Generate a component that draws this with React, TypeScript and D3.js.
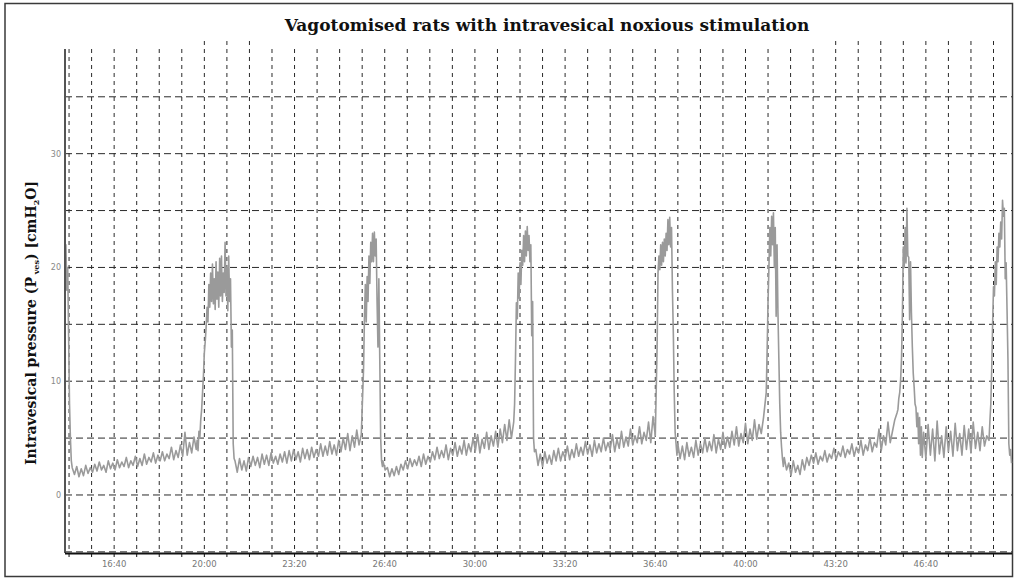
import React from 'react';
import * as d3 from 'd3';

// Trace segments (cmH2O). Each segment has a start time (s) and sample step (s).
const initialDrop = [21, 22, 18, 20, 14, 8, 5, 3];
const baseline1 = [
  2.4, 1.8, 2.5, 1.6, 2.3, 1.7, 2.6, 1.9, 2.4, 2.0,
  2.7, 2.1, 2.9, 2.2, 2.6, 2.0, 3.0, 2.3, 2.8, 2.2,
  3.1, 2.4, 2.9, 2.5, 3.3, 2.4, 3.0, 2.6, 3.4, 2.5,
  3.2, 2.6, 3.6, 2.7, 3.3, 2.9, 3.7, 2.8, 3.5, 3.0,
  3.8, 3.0, 3.6, 3.2, 4.2, 3.1, 3.9, 3.3, 4.4, 3.4,
  5.5, 3.5, 4.6, 3.7, 5.1, 4.0,
];
const contraction1 = [
  4.8, 3.9, 5.6, 5.0, 6.6, 7.5, 9.0, 10.5, 12.5, 13.5,
  14.8, 16.5, 15.2, 18.5, 16.5, 19.5, 17.0, 20.3, 16.8, 19.0,
  16.3, 20.5, 17.2, 19.6, 16.5, 20.8, 17.5, 21.0, 17.0, 19.5,
  17.8, 22.2, 17.5, 20.0, 16.2, 21.0, 17.0, 19.0, 13.0, 14.5,
  4.5, 3.2,
];
const baseline2 = [
  3.0, 2.0, 3.2, 2.2, 3.0, 2.1, 3.3,
  2.5, 3.4, 2.6, 3.3, 2.4, 3.6, 2.7, 3.5, 2.6, 3.7, 2.8, 3.4, 2.7, 3.6, 2.9, 3.8, 2.8,
  3.9, 3.0, 4.0, 3.1, 3.8, 2.9, 4.1, 3.2, 4.0, 3.1, 4.2, 3.3, 4.0, 3.4,
  4.5, 3.4, 4.3, 3.5, 4.7, 3.6, 4.4, 3.5, 4.8,
  3.8, 5.0, 4.0, 5.4, 3.9, 5.2, 4.2, 5.7, 4.4, 5.3,
];
const contraction2 = [
  11, 15.5, 18.5, 15.2, 19.2, 17.0, 21.0, 18.6, 22.2, 20.5,
  23.0, 20.5, 23.1, 21.0, 22.5, 17.0, 13.0, 19.0, 12.0, 5.0, 3.0, 2.5,
];
const baseline3 = [
  3.0, 2.2, 2.4, 1.6, 2.3, 1.7, 2.5, 1.8,
  2.7, 2.2, 3.0, 2.3, 3.2, 2.5, 3.1, 2.6, 3.4, 2.5, 3.6, 2.7, 3.4,
  2.9, 3.8, 3.1, 4.2, 3.2, 3.9, 3.3, 4.4, 3.1, 4.1, 3.5, 4.6, 3.4, 4.3, 3.6, 4.8, 3.5, 4.5,
  3.8, 5.0, 3.9, 5.3, 3.7, 4.9, 4.1, 5.5, 4.0, 5.2, 4.3, 5.6, 4.2,
  5.8, 4.6, 6.2, 4.8, 6.6, 5.0, 6.4,
];
const contraction3 = [
  8, 12, 16.9, 15.5, 19.5, 17.3, 20.4, 18.5, 21.5, 20.2,
  22.8, 20.5, 23.2, 21.0, 23.6, 21.5, 22.8, 20.5, 22.0, 14.0, 17.0, 5.0, 3.8,
];
const baseline4 = [
  4.0, 2.6, 3.6, 2.5, 3.8, 2.8, 3.5, 2.7, 3.9, 3.0,
  4.1, 3.0, 3.8, 3.2, 4.3, 3.1, 4.0, 3.3, 4.5, 3.4, 4.2, 3.5, 4.7, 3.6, 4.4, 3.4, 4.8, 3.7, 4.5, 3.8,
  5.0, 3.9, 4.6, 4.0, 5.3, 3.8, 4.9, 4.1, 5.6, 4.2, 5.1, 4.3, 5.8, 4.4, 5.2,
  4.6, 6.0, 4.5, 5.5, 4.8, 6.4, 4.6, 6.9, 5.2,
];
const contraction4 = [
  13, 19.5, 21, 19.8, 22, 20.2, 22.2, 20.5, 22.5, 21,
  23, 21.5, 24.2, 22, 24.4, 21.8, 23.5, 18, 14.2, 9, 5.5, 4.5, 3.5,
];
const baseline5 = [
  4.5, 3.2, 4.3, 3.1, 4.6, 3.4, 4.2, 3.3, 4.8, 3.5,
  4.5, 3.7, 5.0, 3.8, 4.7, 3.9, 5.3, 3.7, 4.9, 4.0, 5.5, 4.1, 5.1,
  4.2, 5.6, 4.4, 6.0, 4.3, 5.4, 4.6, 6.3, 4.5, 5.8, 4.8, 6.6, 4.9,
  6.2, 5.4, 6.8,
];
const contraction5 = [
  9, 12.7, 17, 20, 23.5, 21, 24.5, 22, 24.8, 20,
  23.5, 15.7, 22, 16, 12, 8, 5.5, 4.2, 3.2, 2.5,
];
const baseline6 = [
  3.3, 2.2, 2.8, 1.7, 3.0, 2.0, 2.6, 1.8, 3.1, 2.2, 3.3,
  2.6, 3.5, 2.8, 3.7, 2.7, 3.4, 3.0, 3.9, 2.9, 3.6, 3.2, 4.1, 3.1, 3.8, 3.4, 4.3, 3.3, 4.0,
  3.6, 4.5, 3.4, 4.2, 3.7, 4.8, 3.5, 4.4, 3.9,
  5.0, 3.8, 4.6, 4.2, 5.8, 3.9, 5.2, 4.4, 6.4, 4.6, 5.6, 6.6, 7.2,
];
const contraction6 = [
  7.5, 8.5, 9.0, 10.1, 12, 16, 21.8, 20, 23.5, 20.4,
  25.2, 21, 20.9, 15.4, 20.5, 16, 13, 10.7, 9.5, 8.0,
  7.7, 6.0, 7.2, 4.5, 6.8, 3.5, 6.0, 3.3,
];
const baseline7 = [
  5.5, 3.2, 6.2, 3.5, 5.8, 3.0, 6.5, 3.6, 5.2, 3.3,
  6.0, 3.8, 5.6, 3.4, 6.3, 3.9, 5.4, 3.5, 6.1, 4.0,
  5.8, 3.7, 6.4, 4.1, 5.5, 3.9, 6.0, 4.3, 5.2, 4.8,
];
const contraction7 = [
  6.5, 8, 11, 15, 18.3, 17.5, 20.5, 18.5, 21.8, 20.5,
  23, 21.8, 24, 22.5, 25.9, 24.5, 25.2, 19, 20.4, 16.3,
  12, 4.5, 3.5, 4.0, 2.8,
];

const segments = [
  initialDrop, baseline1, contraction1, baseline2, contraction2, baseline3, contraction3,
  baseline4, contraction4, baseline5, contraction5, baseline6, contraction6, baseline7, contraction7,
];
const segmentStartSec = [891, 907, 1184, 1268, 1553, 1596, 1888, 1935, 2204, 2250, 2446, 2486, 2738, 2795, 2942];
const segmentStepSec = [2, 5, 2, 5, 2, 5, 2, 5, 2, 5, 2, 5, 2, 5, 2];

const xTickSec = [1000, 1200, 1400, 1600, 1800, 2000, 2200, 2400, 2600, 2800];
const yTickLabels = [0, 10, 20, 30];
const yGridValues = [-5, 0, 5, 10, 15, 20, 25, 30, 35];
const timeDomain = [891, 2991];
const pressureDomain = [-5.1, 39.2];

const title = 'Vagotomised rats with intravesical noxious stimulation';

function fmt(sec: number) {
  const m = Math.floor(sec / 60);
  const s = sec % 60;
  return `${m}:${String(s).padStart(2, '0')}`;
}

export default function App() {
  const W = 1017, H = 578;
  const left = 65, right = 1012, top = 49, bottom = 553;
  const x = d3.scaleLinear().domain(timeDomain).range([left, right]);
  const y = d3.scaleLinear().domain(pressureDomain).range([bottom, top]);

  const points: [number, number][] = [];
  segments.forEach((seg, si) => {
    seg.forEach((v, k) => points.push([segmentStartSec[si] + k * segmentStepSec[si], v]));
  });
  const line = d3.line<[number, number]>().x((d) => x(d[0])).y((d) => y(d[1]));

  const gridTimes = d3.range(900, timeDomain[1], 50);

  return (
    <svg width={W} height={H} style={{ position: 'absolute', left: 0, top: 0, background: '#fff' }}>
      <rect x={0} y={0} width={W} height={H} fill="#fff" />
      <rect x={5} y={3.5} width={1007.5} height={573} fill="none" stroke="#3a3a3a" strokeWidth={1.5} />
      <text x={547} y={31} textAnchor="middle" fontFamily="'DejaVu Serif', serif" fontWeight="bold" fontSize={17} fill="#111">
        {title}
      </text>
      {/* vertical grid */}
      {gridTimes.map((t) => {
        const tall = (t >= 1200 && t <= 1300) || t >= 2600;
        return (
          <line key={'v' + t} x1={x(t)} x2={x(t)} y1={tall ? 41 : 49} y2={bottom} stroke="#2a2a2a" strokeWidth={1} strokeDasharray="4,4" />
        );
      })}
      {/* horizontal grid */}
      {yGridValues.map((v) => (
        <line key={'h' + v} x1={left} x2={right} y1={y(v)} y2={y(v)} stroke="#2a2a2a" strokeWidth={1} strokeDasharray="7,4" />
      ))}
      {/* trace */}
      <path d={line(points) || ''} fill="none" stroke="#9a9a9a" strokeWidth={1.6} strokeLinejoin="round" />
      {/* axes */}
      <line x1={left} x2={left} y1={top} y2={bottom} stroke="#555" strokeWidth={2} />
      <line x1={left} x2={right} y1={bottom + 0.5} y2={bottom + 0.5} stroke="#111" strokeWidth={2} />
      {gridTimes.map((t) => (
        <line key={'tk' + t} x1={x(t)} x2={x(t)} y1={bottom} y2={bottom + 4} stroke="#111" strokeWidth={1} />
      ))}
      {xTickSec.map((t) => (
        <text key={'xl' + t} x={x(t)} y={567} textAnchor="middle" fontFamily="'DejaVu Sans', sans-serif" fontSize={8.5} fill="#777">
          {fmt(t)}
        </text>
      ))}
      {yTickLabels.map((v) => (
        <text key={'yl' + v} x={61} y={y(v) + 3} textAnchor="end" fontFamily="'DejaVu Sans', sans-serif" fontSize={8} fill="#888">
          {v}
        </text>
      ))}
      <text transform="translate(36,323) rotate(-90)" textAnchor="middle" fontFamily="'DejaVu Serif', serif" fontWeight="bold" fontSize={14} fill="#111">
        <tspan>Intravesical pressure (P</tspan>
        <tspan fontSize={8} dy={3}> ves</tspan>
        <tspan dy={-3}>) [cmH</tspan>
        <tspan fontSize={8} dy={3}>2</tspan>
        <tspan dy={-3}>O]</tspan>
      </text>
    </svg>
  );
}
